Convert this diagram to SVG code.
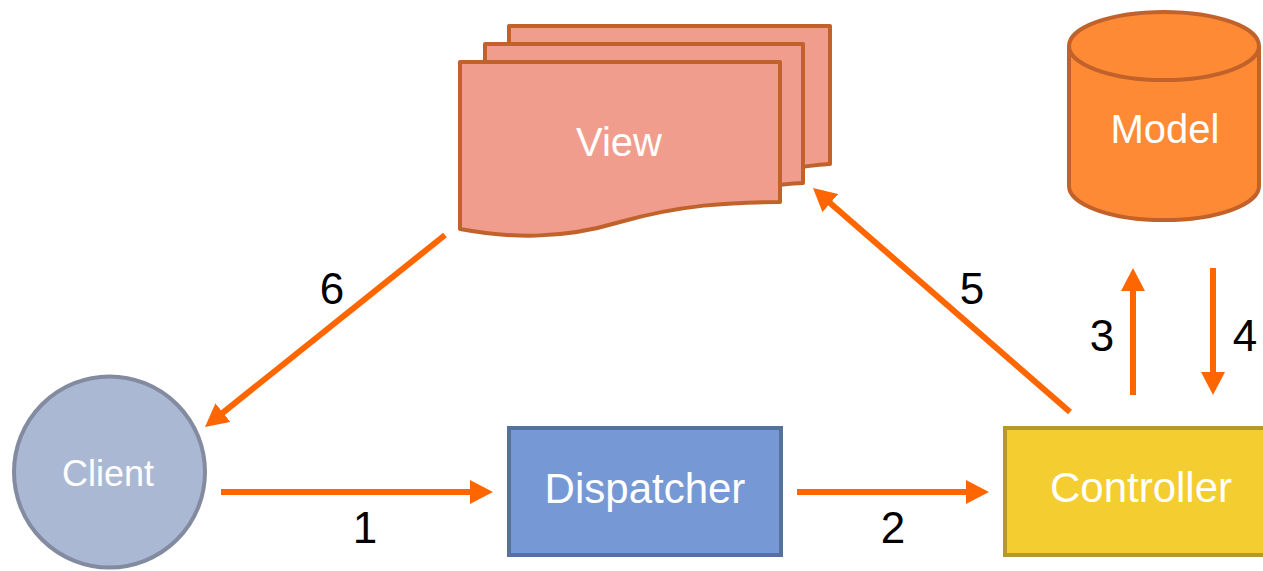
<svg xmlns="http://www.w3.org/2000/svg" width="1263" height="571" viewBox="0 0 1263 571">
  <style>
    .label { font-family: "Liberation Sans", Arial, sans-serif; fill: #FFFFFF; text-anchor: middle; }
    .num { font-family: "Liberation Sans", Arial, sans-serif; fill: #000000; font-size: 44px; text-anchor: middle; }
    .page { fill: #F19D8E; stroke: #C0622A; stroke-width: 4; stroke-linejoin: round; }
    .flow { fill: none; stroke: #FF6600; stroke-width: 6; marker-end: url(#head); }
  </style>
  <defs>
    <marker id="head" markerUnits="userSpaceOnUse" markerWidth="24" markerHeight="24" refX="8" refY="12" orient="auto">
      <path d="M0,0 L23,12 L0,24 Z" fill="#FF6600"/>
    </marker>
  </defs>
  <rect width="1263" height="571" fill="#FFFFFF"/>

  <!-- View: stack of three documents -->
  <g id="view">
    <path class="page" d="M509,26 H830 V164 C810,165 760,172 700,190 L509,190 Z"/>
    <path class="page" d="M485,44 H803 V183 C780,184 740,190 690,205 L485,210 Z"/>
    <path class="page" d="M460,62 H780 V202 C730,202 680,205 620,222 C560,240 510,238 460,229 Z"/>
    <text class="label" x="619" y="156" font-size="40">View</text>
  </g>

  <!-- Model: cylinder -->
  <g id="model">
    <path d="M1069,46 V186 A95,34 0 0 0 1259,186 V46 A95,34 0 0 0 1069,46 Z" fill="#FF8A35" stroke="#C0622A" stroke-width="4"/>
    <path d="M1069,46 A95,34 0 0 0 1259,46" fill="none" stroke="#C0622A" stroke-width="4"/>
    <text class="label" x="1165" y="143" font-size="40">Model</text>
  </g>

  <!-- Client -->
  <g id="client">
    <circle cx="109.5" cy="472" r="95.5" fill="#ABB8D4" stroke="#828BA0" stroke-width="4"/>
    <text class="label" x="108" y="486" font-size="36">Client</text>
  </g>

  <!-- Dispatcher -->
  <g id="dispatcher">
    <rect x="509" y="428" width="272" height="127" fill="#7699D6" stroke="#55719E" stroke-width="4"/>
    <text class="label" x="645" y="503" font-size="42">Dispatcher</text>
  </g>

  <!-- Controller -->
  <g id="controller">
    <rect x="1005" y="428" width="300" height="127" fill="#F4CD31" stroke="#B7982B" stroke-width="4"/>
    <text class="label" x="1141" y="502" font-size="42">Controller</text>
  </g>

  <!-- Request flow -->
  <g id="connectors">
    <line class="flow" x1="221" y1="492" x2="478" y2="492"/>
    <line class="flow" x1="797" y1="492" x2="974" y2="492"/>
    <line class="flow" x1="1133" y1="395" x2="1133" y2="283"/>
    <line class="flow" x1="1213" y1="268" x2="1213" y2="380"/>
    <line class="flow" x1="1070" y1="412" x2="824.3" y2="197.9"/>
    <line class="flow" x1="445" y1="235" x2="216.7" y2="417.6"/>
    <text class="num" x="365" y="543">1</text>
    <text class="num" x="893" y="543">2</text>
    <text class="num" x="1102" y="351">3</text>
    <text class="num" x="1245" y="351">4</text>
    <text class="num" x="972" y="304">5</text>
    <text class="num" x="332" y="304">6</text>
  </g>
</svg>
